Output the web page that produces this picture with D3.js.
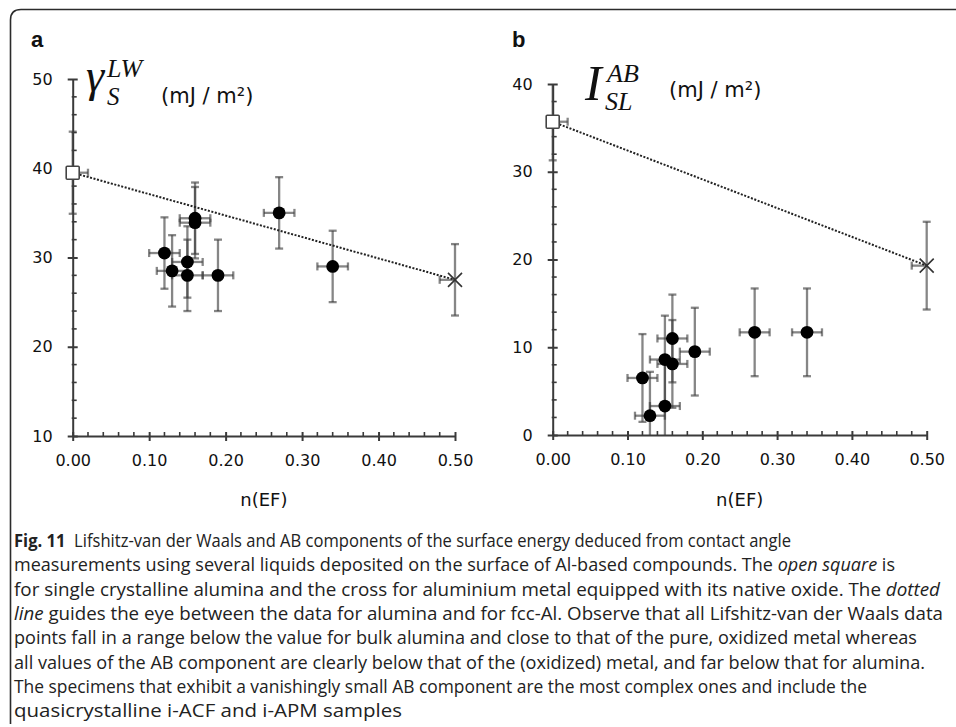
<!DOCTYPE html>
<html>
<head>
<meta charset="utf-8">
<script src="https://cdn.jsdelivr.net/npm/d3@7"></script>
<style>
  html, body { margin: 0; padding: 0; background: #fff; }
  svg { display: block; }
  .tick text { font-family: "DejaVu Sans", Verdana, sans-serif; font-size: 16px; fill: #111; }
</style>
</head>
<body>
<svg id="fig" width="956" height="727"></svg>
<script>
// n(EF) of the Al-based compounds
const nCompounds = [0.12, 0.13, 0.15, 0.15, 0.16, 0.16, 0.19, 0.27, 0.34];
const nErr = 0.02;
// Lifshitz-van der Waals component (mJ/m2)
const gammaLW = [30.5, 28.5, 29.5, 28.0, 34.4, 33.9, 28.0, 35.0, 29.0];
const gammaLWErr = 4;
// AB component (mJ/m2)
const interAB = [6.5, 2.2, 3.3, 8.6, 11.0, 8.1, 9.5, 11.7, 11.7];
const interABErr = 5;
// reference materials: single crystalline alumina (open square), oxidized Al metal (cross)
const aluminaN = 0, aluminaLW = 39.5, aluminaLWErr = 4.6, aluminaAB = 35.7, aluminaABErr = 4.4;
const metalN = 0.5, metalLW = 27.5, metalLWErr = 4, metalAB = 19.3, metalABErr = 5;

const xTicks = [0, 0.1, 0.2, 0.3, 0.4, 0.5];
const yTicksLW = [10, 20, 30, 40, 50];
const yTicksAB = [0, 10, 20, 30, 40];

const captionLines = [
  [["b", "Fig. 11"], ["n", "  Lifshitz-van der Waals and AB components of the surface energy deduced from contact angle"]],
  [["n", "measurements using several liquids deposited on the surface of Al-based compounds. The "], ["i", "open square"], ["n", " is"]],
  [["n", "for single crystalline alumina and the cross for aluminium metal equipped with its native oxide. The "], ["i", "dotted"]],
  [["i", "line"], ["n", " guides the eye between the data for alumina and for fcc-Al. Observe that all Lifshitz-van der Waals data"]],
  [["n", "points fall in a range below the value for bulk alumina and close to that of the pure, oxidized metal whereas"]],
  [["n", "all values of the AB component are clearly below that of the (oxidized) metal, and far below that for alumina."]],
  [["n", "The specimens that exhibit a vanishingly small AB component are the most complex ones and include the"]],
  [["n", "quasicrystalline i-ACF and i-APM samples"]]
];
const captionWidths = [777, 881, 926, 929, 903, 911, 853, 388];

const svg = d3.select("#fig");

// rounded frame (left and top edges)
svg.append("path")
  .attr("d", "M10.5,724 L10.5,20 Q10.5,9.5 21,9.5 L956,9.5")
  .attr("fill", "none").attr("stroke", "#2b2b2b").attr("stroke-width", 1.6);

function panel(cfg) {
  const x = d3.scaleLinear().domain([0, 0.5]).range(cfg.xRange);
  const y = d3.scaleLinear().domain(cfg.yDomain).range(cfg.yRange);
  const g = svg.append("g");
  const axisColor = "#3a3a3a";
  const [y0, y1] = cfg.yDomain;

  // x axis
  const xa = g.append("g").attr("transform", `translate(0,${y(y0)})`)
    .call(d3.axisBottom(x).tickValues(xTicks).tickFormat(d3.format(".2f"))
      .tickSizeInner(5).tickSizeOuter(0).tickPadding(14));
  xa.select(".domain").attr("stroke", axisColor).attr("stroke-width", 2);
  xa.selectAll(".tick line").attr("stroke", axisColor).attr("stroke-width", 2).attr("y1", -4);
  const xMinor = d3.range(0, 0.5001, 0.02).filter(v => Math.abs(v * 10 - Math.round(v * 10)) > 1e-6);
  g.append("g").selectAll("line").data(xMinor).join("line")
    .attr("x1", d => x(d)).attr("x2", d => x(d))
    .attr("y1", y(y0) - 4).attr("y2", y(y0) + 1)
    .attr("stroke", axisColor).attr("stroke-width", 1.6);

  // y axis
  const ya = g.append("g").attr("transform", `translate(${x(0)},0)`)
    .call(d3.axisLeft(y).tickValues(cfg.yTicks).tickFormat(d3.format("d"))
      .tickSizeInner(5).tickSizeOuter(0).tickPadding(15));
  ya.select(".domain").attr("stroke", axisColor).attr("stroke-width", 2);
  ya.selectAll(".tick line").attr("stroke", axisColor).attr("stroke-width", 2).attr("x1", 5);
  const yMinor = d3.range(y0, y1 + 0.001, 2).filter(v => v % 10 !== 0);
  g.append("g").selectAll("line").data(yMinor).join("line")
    .attr("x1", x(0) - 1).attr("x2", x(0) + 4)
    .attr("y1", d => y(d)).attr("y2", d => y(d))
    .attr("stroke", axisColor).attr("stroke-width", 1.6);

  // error bars
  const pts = cfg.values.map((v, i) => ({ n: cfg.n[i], v, ex: nErr, ey: cfg.vErr }));
  const all = [{ n: aluminaN, v: cfg.ref0, ex: nErr, ey: cfg.ref0Err }, ...pts, { n: metalN, v: cfg.ref1, ex: nErr, ey: cfg.ref1Err }];
  const clampX = v => Math.max(0, Math.min(0.5, v));
  const clampY = v => Math.max(y0, Math.min(y1, v));
  const eb = g.append("g").attr("stroke", "rgba(60,60,60,0.62)").attr("stroke-width", 2.3).attr("fill", "none");
  const cap = 4;
  all.forEach(d => {
    const yl = d.v - d.ey, yh = d.v + d.ey, xl = d.n - d.ex, xh = d.n + d.ex;
    eb.append("line").attr("x1", x(d.n)).attr("x2", x(d.n)).attr("y1", y(clampY(yl))).attr("y2", y(clampY(yh)));
    if (yl >= y0) eb.append("line").attr("x1", x(d.n) - cap).attr("x2", x(d.n) + cap).attr("y1", y(yl)).attr("y2", y(yl));
    if (yh <= y1) eb.append("line").attr("x1", x(d.n) - cap).attr("x2", x(d.n) + cap).attr("y1", y(yh)).attr("y2", y(yh));
    eb.append("line").attr("x1", x(clampX(xl))).attr("x2", x(clampX(xh))).attr("y1", y(d.v)).attr("y2", y(d.v));
    if (xl >= 0) eb.append("line").attr("x1", x(xl)).attr("x2", x(xl)).attr("y1", y(d.v) - cap).attr("y2", y(d.v) + cap);
    if (xh <= 0.5) eb.append("line").attr("x1", x(xh)).attr("x2", x(xh)).attr("y1", y(d.v) - cap).attr("y2", y(d.v) + cap);
  });

  // dotted guide between alumina and the metal
  g.append("line")
    .attr("x1", x(aluminaN)).attr("y1", y(cfg.ref0))
    .attr("x2", x(metalN)).attr("y2", y(cfg.ref1))
    .attr("stroke", "#222").attr("stroke-width", 2).attr("stroke-dasharray", "2,1.6");

  // compounds
  g.append("g").selectAll("circle").data(pts).join("circle")
    .attr("cx", d => x(d.n)).attr("cy", d => y(d.v)).attr("r", 6.4).attr("fill", "#000");

  // alumina: open square
  g.append("rect")
    .attr("x", x(aluminaN) - 6.5).attr("y", y(cfg.ref0) - 6.5)
    .attr("width", 13).attr("height", 13).attr("rx", 1)
    .attr("fill", "#fff").attr("stroke", "#444").attr("stroke-width", 1.6);

  // oxidized Al metal: cross
  const cx = x(metalN), cy = y(cfg.ref1), s = 7;
  g.append("path")
    .attr("d", `M${cx - s},${cy - s}L${cx + s},${cy + s}M${cx - s},${cy + s}L${cx + s},${cy - s}`)
    .attr("stroke", "#333").attr("stroke-width", 1.6).attr("fill", "none");

  // panel letter
  svg.append("text").attr("x", cfg.letterX).attr("y", 47)
    .attr("font-family", "Liberation Sans, Arial, sans-serif").attr("font-weight", "bold")
    .attr("font-size", 22).attr("fill", "#111").text(cfg.letter);

  // axis title
  svg.append("text").attr("x", (cfg.xRange[0] + cfg.xRange[1]) / 2).attr("y", 506)
    .attr("text-anchor", "middle")
    .attr("font-family", "DejaVu Sans, Verdana, sans-serif").attr("font-size", 18)
    .attr("fill", "#111").text("n(EF)");

  // quantity symbol and unit
  const sym = svg.append("g").attr("font-family", "Liberation Serif, Times New Roman, serif")
    .attr("font-style", "italic").attr("fill", "#111");
  sym.append("text").attr("x", cfg.sym.x).attr("y", cfg.sym.y)
    .attr("font-size", cfg.sym.size).text(cfg.sym.main);
  sym.append("text").attr("x", cfg.sym.x + cfg.sym.supDx).attr("y", cfg.sym.y - cfg.sym.supDy)
    .attr("font-size", cfg.sym.supSize).text(cfg.sym.sup);
  sym.append("text").attr("x", cfg.sym.x + cfg.sym.subDx).attr("y", cfg.sym.y + cfg.sym.subDy)
    .attr("font-size", cfg.sym.subSize).text(cfg.sym.sub);
  svg.append("text").attr("x", cfg.unitX).attr("y", cfg.unitY)
    .attr("font-family", "DejaVu Sans, Verdana, sans-serif").attr("font-size", 21)
    .attr("fill", "#111").text("(mJ / m²)");
}

panel({
  letter: "a", letterX: 31,
  xRange: [72.7, 455], yDomain: [10, 50], yRange: [436, 79], yTicks: yTicksLW,
  n: nCompounds, values: gammaLW, vErr: gammaLWErr,
  ref0: aluminaLW, ref0Err: aluminaLWErr, ref1: metalLW, ref1Err: metalLWErr,
  sym: { x: 86, y: 91, size: 46, main: "γ", sup: "LW", sub: "S", supDx: 21, supDy: 14, subDx: 21, subDy: 14, supSize: 26, subSize: 25 },
  unitX: 161, unitY: 103
});

panel({
  letter: "b", letterX: 512,
  xRange: [552.7, 926.7], yDomain: [0, 40], yRange: [435, 84], yTicks: yTicksAB,
  n: nCompounds, values: interAB, vErr: interABErr,
  ref0: aluminaAB, ref0Err: aluminaABErr, ref1: metalAB, ref1Err: metalABErr,
  sym: { x: 585, y: 100, size: 50, main: "I", sup: "AB", sub: "SL", supDx: 22, supDy: 18, subDx: 20, subDy: 10, supSize: 26, subSize: 26 },
  unitX: 669, unitY: 97
});

// caption
const cap = svg.append("g").attr("font-family", "Open Sans, Noto Sans, sans-serif")
  .attr("font-size", 17.5).attr("fill", "#222");
captionLines.forEach((line, i) => {
  const t = cap.append("text").attr("x", 14).attr("y", 547 + i * 24.3)
    .attr("textLength", captionWidths[i]).attr("lengthAdjust", "spacingAndGlyphs")
    .attr("xml:space", "preserve");
  line.forEach(([style, str]) => {
    const ts = t.append("tspan").text(str);
    if (style === "b") ts.attr("font-weight", "bold");
    if (style === "i") ts.attr("font-style", "italic");
  });
});
</script>
</body>
</html>
